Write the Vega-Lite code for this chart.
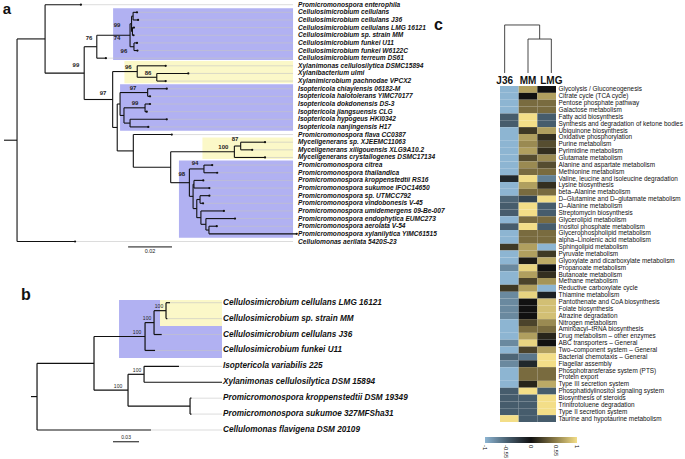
{
"$schema": "https://vega.github.io/schema/vega-lite/v6.json",
"width": 685, "height": 459, "padding": 0, "autosize": {"type": "none"},
"background": "white",
"config": {"view": {"stroke": null}, "font": "Liberation Sans", "axis": {"grid": false}},
"datasets": {
"aBranch": [
{"x":0,"x2":0.006,"y":18.74,"y2":18.74},
{"x":0.006,"x2":0.006,"y":5.48,"y2":32},{"x":0.006,"x2":0.0189,"y":5.48,"y2":5.48},{"x":0.006,"x2":0.0327,"y":32,"y2":32},
{"x":0.0189,"x2":0.0189,"y":1,"y2":9.96},{"x":0.0189,"x2":0.0354,"y":1,"y2":1},{"x":0.0189,"x2":0.0369,"y":9.96,"y2":9.96},
{"x":0.0369,"x2":0.0369,"y":6.5,"y2":13.41},{"x":0.0369,"x2":0.0427,"y":6.5,"y2":6.5},{"x":0.0369,"x2":0.05,"y":13.41,"y2":13.41},
{"x":0.0427,"x2":0.0427,"y":5,"y2":8},{"x":0.0427,"x2":0.058,"y":5,"y2":5},{"x":0.0427,"x2":0.0469,"y":8,"y2":8},
{"x":0.058,"x2":0.058,"y":3.5,"y2":6.5},{"x":0.058,"x2":0.0587,"y":3.5,"y2":3.5},{"x":0.058,"x2":0.0598,"y":6.5,"y2":6.5},
{"x":0.0587,"x2":0.0587,"y":2.5,"y2":4.5},{"x":0.0587,"x2":0.0594,"y":2.5,"y2":2.5},{"x":0.0587,"x2":0.0591,"y":4.5,"y2":4.5},
{"x":0.0594,"x2":0.0594,"y":2,"y2":3},{"x":0.0594,"x2":0.0612,"y":2,"y2":2},{"x":0.0594,"x2":0.0617,"y":3,"y2":3},
{"x":0.0591,"x2":0.0591,"y":4,"y2":5},{"x":0.0591,"x2":0.0598,"y":4,"y2":4},{"x":0.0591,"x2":0.0596,"y":5,"y2":5},
{"x":0.0598,"x2":0.0598,"y":6,"y2":7},{"x":0.0598,"x2":0.0612,"y":6,"y2":6},{"x":0.0598,"x2":0.0614,"y":7,"y2":7},
{"x":0.05,"x2":0.05,"y":9.75,"y2":17.07},{"x":0.05,"x2":0.0613,"y":9.75,"y2":9.75},{"x":0.05,"x2":0.0521,"y":17.07,"y2":17.07},
{"x":0.0613,"x2":0.0613,"y":9,"y2":10.5},{"x":0.0613,"x2":0.0744,"y":9,"y2":9},{"x":0.0613,"x2":0.0703,"y":10.5,"y2":10.5},
{"x":0.0703,"x2":0.0703,"y":10,"y2":11},{"x":0.0703,"x2":0.0848,"y":10,"y2":10},{"x":0.0703,"x2":0.0744,"y":11,"y2":11},
{"x":0.0521,"x2":0.0521,"y":14,"y2":20.14},{"x":0.0521,"x2":0.0534,"y":14,"y2":14},{"x":0.0521,"x2":0.0595,"y":20.14,"y2":20.14},
{"x":0.0534,"x2":0.0534,"y":12.5,"y2":15.5},{"x":0.0534,"x2":0.0661,"y":12.5,"y2":12.5},{"x":0.0534,"x2":0.0552,"y":15.5,"y2":15.5},
{"x":0.0661,"x2":0.0661,"y":12,"y2":13},{"x":0.0661,"x2":0.0749,"y":12,"y2":12},{"x":0.0661,"x2":0.0672,"y":13,"y2":13},
{"x":0.0552,"x2":0.0552,"y":14.5,"y2":16.5},{"x":0.0552,"x2":0.0649,"y":14.5,"y2":14.5},{"x":0.0552,"x2":0.058,"y":16.5,"y2":16.5},
{"x":0.0649,"x2":0.0649,"y":14,"y2":15},{"x":0.0649,"x2":0.0672,"y":14,"y2":14},{"x":0.0649,"x2":0.0657,"y":15,"y2":15},
{"x":0.058,"x2":0.058,"y":16,"y2":17},{"x":0.058,"x2":0.0749,"y":16,"y2":16},{"x":0.058,"x2":0.0664,"y":17,"y2":17},
{"x":0.0595,"x2":0.0595,"y":18,"y2":22.27},{"x":0.0595,"x2":0.0772,"y":18,"y2":18},{"x":0.0595,"x2":0.0767,"y":22.27,"y2":22.27},
{"x":0.0767,"x2":0.0767,"y":20.25,"y2":24.3},{"x":0.0767,"x2":0.106,"y":20.25,"y2":20.25},{"x":0.0767,"x2":0.0853,"y":24.3,"y2":24.3},
{"x":0.106,"x2":0.106,"y":19.5,"y2":21},{"x":0.106,"x2":0.1089,"y":19.5,"y2":19.5},{"x":0.106,"x2":0.1201,"y":21,"y2":21},
{"x":0.1089,"x2":0.1089,"y":19,"y2":20},{"x":0.1089,"x2":0.1201,"y":19,"y2":19},{"x":0.1089,"x2":0.1142,"y":20,"y2":20},
{"x":0.0853,"x2":0.0853,"y":22.5,"y2":26.09},{"x":0.0853,"x2":0.092,"y":22.5,"y2":22.5},{"x":0.0853,"x2":0.087,"y":26.09,"y2":26.09},
{"x":0.092,"x2":0.092,"y":22,"y2":23},{"x":0.092,"x2":0.0958,"y":22,"y2":22},{"x":0.092,"x2":0.0981,"y":23,"y2":23},
{"x":0.087,"x2":0.087,"y":24.5,"y2":27.69},{"x":0.087,"x2":0.0874,"y":24.5,"y2":24.5},{"x":0.087,"x2":0.0887,"y":27.69,"y2":27.69},
{"x":0.0874,"x2":0.0874,"y":24,"y2":25},{"x":0.0874,"x2":0.0917,"y":24,"y2":24},{"x":0.0874,"x2":0.0945,"y":25,"y2":25},
{"x":0.0887,"x2":0.0887,"y":26.5,"y2":28.875},{"x":0.0887,"x2":0.0902,"y":26.5,"y2":26.5},{"x":0.0887,"x2":0.0906,"y":28.875,"y2":28.875},
{"x":0.0902,"x2":0.0902,"y":26,"y2":27},{"x":0.0902,"x2":0.0945,"y":26,"y2":26},{"x":0.0902,"x2":0.0916,"y":27,"y2":27},
{"x":0.0906,"x2":0.0906,"y":28,"y2":29.75},{"x":0.0906,"x2":0.1012,"y":28,"y2":28},{"x":0.0906,"x2":0.0929,"y":29.75,"y2":29.75},
{"x":0.0929,"x2":0.0929,"y":29,"y2":30.5},{"x":0.0929,"x2":0.1063,"y":29,"y2":29},{"x":0.0929,"x2":0.0943,"y":30.5,"y2":30.5},
{"x":0.0943,"x2":0.0943,"y":30,"y2":31},{"x":0.0943,"x2":0.0979,"y":30,"y2":30},{"x":0.0943,"x2":0.1347,"y":31,"y2":31}
],
"aTip": [
{"name":"Promicromonospora enterophila","y":1,"x":0.0354},
{"name":"Cellulosimicrobium cellulans","y":2,"x":0.0612},
{"name":"Cellulosimicrobium cellulans J36","y":3,"x":0.0617},
{"name":"Cellulosimicrobium cellulans LMG 16121","y":4,"x":0.0598},
{"name":"Cellulosimicrobium sp. strain MM","y":5,"x":0.0596},
{"name":"Cellulosimicrobium funkei U11","y":6,"x":0.0612},
{"name":"Cellulosimicrobium funkei W6122C","y":7,"x":0.0614},
{"name":"Cellulosimicrobium terreum DS61","y":8,"x":0.0469},
{"name":"Xylanimonas cellulosilytica DSMC15894","y":9,"x":0.0744},
{"name":"Xylanibacterium ulmi","y":10,"x":0.0848},
{"name":"Xylanimicrobium pachnodae VPCX2","y":11,"x":0.0744},
{"name":"Isoptericola chiayiensis 06182-M","y":12,"x":0.0749},
{"name":"Isoptericola halotolerans YIMC70177","y":13,"x":0.0672},
{"name":"Isoptericola dokdonensis DS-3","y":14,"x":0.0672},
{"name":"Isoptericola jiangsuensis CLG","y":15,"x":0.0657},
{"name":"Isoptericola hypogeus HKI0342","y":16,"x":0.0749},
{"name":"Isoptericola nanjingensis H17","y":17,"x":0.0664},
{"name":"Promicromonospora flava CC0387","y":18,"x":0.0772},
{"name":"Myceligenerans sp. XJEEMC11063","y":19,"x":0.1201},
{"name":"Myceligenerans xiligouensis XLG9A10.2","y":20,"x":0.1142},
{"name":"Myceligenerans crystallogenes DSMC17134","y":21,"x":0.1201},
{"name":"Promicromonospora citrea","y":22,"x":0.0958},
{"name":"Promicromonospora thailandica","y":23,"x":0.0981},
{"name":"Promicromonospora kroppenstedtii RS16","y":24,"x":0.0917},
{"name":"Promicromonospora sukumoe IFOC14650","y":25,"x":0.0945},
{"name":"Promicromonospora sp. UTMCC792","y":26,"x":0.0945},
{"name":"Promicromonospora vindobonesis V-45","y":27,"x":0.0916},
{"name":"Promicromonospora umidemergens 09-Be-007","y":28,"x":0.1012},
{"name":"Promicromonospora endophytica EUMC273","y":29,"x":0.1063},
{"name":"Promicromonospora aerolata V-54","y":30,"x":0.0979},
{"name":"Promicromonospora xylanilytica YIMC61515","y":31,"x":0.1347},
{"name":"Cellulomonas aerilata 5420S-23","y":32,"x":0.0327}
],
"aBlue": [{"x":0.0502,"x2":0.133,"y":1.47,"y2":8.24},{"x":0.0534,"x2":0.133,"y":11.42,"y2":17.5},{"x":0.0805,"x2":0.133,"y":21.4,"y2":31.5}],
"aYellow": [{"x":0.0554,"x2":0.133,"y":8.37,"y2":11.29},{"x":0.0913,"x2":0.133,"y":18.4,"y2":21.2}],
"aBoot": [
{"x":0.0331,"y":8.9,"label":"99"},{"x":0.0391,"y":5.4,"label":"76"},{"x":0.052,"y":3.66,"label":"99"},
{"x":0.052,"y":5.32,"label":"74"},{"x":0.0552,"y":7.02,"label":"96"},{"x":0.0572,"y":9.12,"label":"96"},
{"x":0.0663,"y":9.98,"label":"86"},{"x":0.0456,"y":12.56,"label":"97"},{"x":0.0594,"y":11.94,"label":"97"},
{"x":0.0603,"y":13.9,"label":"99"},{"x":0.1063,"y":18.58,"label":"87"},{"x":0.1009,"y":19.59,"label":"100"},
{"x":0.0879,"y":21.76,"label":"94"},{"x":0.0818,"y":23.16,"label":"98"}
],
"bBranch": [
{"x":0,"x2":0.0067,"y":6.9,"y2":6.9},
{"x":0.0067,"x2":0.0067,"y":4.81,"y2":9},{"x":0.0067,"x2":0.07,"y":4.81,"y2":4.81},{"x":0.0067,"x2":0.1333,"y":9,"y2":9},
{"x":0.07,"x2":0.07,"y":3.125,"y2":6.5},{"x":0.07,"x2":0.1267,"y":3.125,"y2":3.125},{"x":0.07,"x2":0.1078,"y":6.5,"y2":6.5},
{"x":0.1267,"x2":0.1267,"y":2.25,"y2":4},{"x":0.1267,"x2":0.1367,"y":2.25,"y2":2.25},{"x":0.1267,"x2":0.1378,"y":4,"y2":4},
{"x":0.1367,"x2":0.1367,"y":1.5,"y2":3},{"x":0.1367,"x2":0.15,"y":1.5,"y2":1.5},{"x":0.1367,"x2":0.1452,"y":3,"y2":3},
{"x":0.15,"x2":0.15,"y":1,"y2":2},{"x":0.15,"x2":0.1544,"y":1,"y2":1},{"x":0.15,"x2":0.1515,"y":2,"y2":2},
{"x":0.1078,"x2":0.1078,"y":5.5,"y2":7.5},{"x":0.1078,"x2":0.1256,"y":5.5,"y2":5.5},{"x":0.1078,"x2":0.1767,"y":7.5,"y2":7.5},
{"x":0.1256,"x2":0.1256,"y":5,"y2":6},{"x":0.1256,"x2":0.1644,"y":5,"y2":5},{"x":0.1256,"x2":0.2122,"y":6,"y2":6},
{"x":0.1767,"x2":0.1767,"y":7,"y2":8},{"x":0.1767,"x2":0.1783,"y":7,"y2":7},{"x":0.1767,"x2":0.1783,"y":8,"y2":8}
],
"bTip": [
{"name":"Cellulosimicrobium cellulans LMG 16121","y":1,"x":0.1544},
{"name":"Cellulosimicrobium sp. strain MM","y":2,"x":0.1515},
{"name":"Cellulosimicrobium cellulans J36","y":3,"x":0.1452},
{"name":"Cellulosimicrobium funkei U11","y":4,"x":0.1378},
{"name":"Isoptericola variabilis 225","y":5,"x":0.1644},
{"name":"Xylanimonas cellulosilytica DSM 15894","y":6,"x":0.2122},
{"name":"Promicromonospora kroppenstedtii DSM 19349","y":7,"x":0.1783},
{"name":"Promicromonospora sukumoe 327MFSha31","y":8,"x":0.1783},
{"name":"Cellulomonas flavigena DSM 20109","y":9,"x":0.1333}
],
"bBlue": [{"x":0.0978,"x2":0.2122,"y":0.83,"y2":4.48}],
"bYellow": [{"x":0.1433,"x2":0.2122,"y":0.83,"y2":2.47}],
"bBoot": [
{"x":0.1422,"y":1.19,"label":"100"},{"x":0.1289,"y":1.96,"label":"100"},{"x":0.1178,"y":2.82,"label":"100"},
{"x":0.1178,"y":5.21,"label":"100"},{"x":0.0967,"y":6.26,"label":"100"}
],
"cDendro": [
{"x":0.25,"x2":0.25,"y":-1.9,"y2":-8.9},
{"x":1.5,"x2":1.5,"y":-1.9,"y2":-6.85},
{"x":2.75,"x2":2.75,"y":-1.9,"y2":-6.85},
{"x":1.5,"x2":2.75,"y":-6.85,"y2":-6.85},
{"x":2.125,"x2":2.125,"y":-6.85,"y2":-8.9},
{"x":0.25,"x2":2.125,"y":-8.9,"y2":-8.9}
],
"cLeaf": [{"sample":"J36","x":0.25},{"sample":"MM","x":1.5},{"sample":"LMG","x":2.75}],
"heat": [
{"pathway":"Glycolysis / Gluconeogenesis","sample":"J36","value":-1},{"pathway":"Glycolysis / Gluconeogenesis","sample":"MM","value":0.7},{"pathway":"Glycolysis / Gluconeogenesis","sample":"LMG","value":0},
{"pathway":"Citrate cycle (TCA cycle)","sample":"J36","value":-1},{"pathway":"Citrate cycle (TCA cycle)","sample":"MM","value":0},{"pathway":"Citrate cycle (TCA cycle)","sample":"LMG","value":0.7},
{"pathway":"Pentose phosphate pathway","sample":"J36","value":-1},{"pathway":"Pentose phosphate pathway","sample":"MM","value":0.45},{"pathway":"Pentose phosphate pathway","sample":"LMG","value":0.45},
{"pathway":"Galactose metabolism","sample":"J36","value":-1},{"pathway":"Galactose metabolism","sample":"MM","value":0.45},{"pathway":"Galactose metabolism","sample":"LMG","value":0.45},
{"pathway":"Fatty acid biosynthesis","sample":"J36","value":-0.5},{"pathway":"Fatty acid biosynthesis","sample":"MM","value":1},{"pathway":"Fatty acid biosynthesis","sample":"LMG","value":-0.5},
{"pathway":"Synthesis and degradation of ketone bodies","sample":"J36","value":-0.5},{"pathway":"Synthesis and degradation of ketone bodies","sample":"MM","value":1},{"pathway":"Synthesis and degradation of ketone bodies","sample":"LMG","value":-0.5},
{"pathway":"Ubiquinone biosynthesis","sample":"J36","value":-1},{"pathway":"Ubiquinone biosynthesis","sample":"MM","value":0.2},{"pathway":"Ubiquinone biosynthesis","sample":"LMG","value":0.7},
{"pathway":"Oxidative phosphorylation","sample":"J36","value":-1},{"pathway":"Oxidative phosphorylation","sample":"MM","value":0.7},{"pathway":"Oxidative phosphorylation","sample":"LMG","value":0.15},
{"pathway":"Purine metabolism","sample":"J36","value":-1},{"pathway":"Purine metabolism","sample":"MM","value":0.6},{"pathway":"Purine metabolism","sample":"LMG","value":0.3},
{"pathway":"Pyrimidine metabolism","sample":"J36","value":-1},{"pathway":"Pyrimidine metabolism","sample":"MM","value":0.7},{"pathway":"Pyrimidine metabolism","sample":"LMG","value":0.15},
{"pathway":"Glutamate metabolism","sample":"J36","value":-1},{"pathway":"Glutamate metabolism","sample":"MM","value":0.3},{"pathway":"Glutamate metabolism","sample":"LMG","value":0.6},
{"pathway":"Alanine and aspartate metabolism","sample":"J36","value":-1},{"pathway":"Alanine and aspartate metabolism","sample":"MM","value":0.6},{"pathway":"Alanine and aspartate metabolism","sample":"LMG","value":0.3},
{"pathway":"Methionine metabolism","sample":"J36","value":-1},{"pathway":"Methionine metabolism","sample":"MM","value":0.45},{"pathway":"Methionine metabolism","sample":"LMG","value":0.45},
{"pathway":"Valine, leucine and isoleucine degradation","sample":"J36","value":-0.15},{"pathway":"Valine, leucine and isoleucine degradation","sample":"MM","value":1},{"pathway":"Valine, leucine and isoleucine degradation","sample":"LMG","value":-0.7},
{"pathway":"Lysine biosynthesis","sample":"J36","value":-1},{"pathway":"Lysine biosynthesis","sample":"MM","value":0.7},{"pathway":"Lysine biosynthesis","sample":"LMG","value":0.15},
{"pathway":"beta–Alanine metabolism","sample":"J36","value":-1},{"pathway":"beta–Alanine metabolism","sample":"MM","value":0.45},{"pathway":"beta–Alanine metabolism","sample":"LMG","value":0.45},
{"pathway":"D–Glutamine and D–glutamate metabolism","sample":"J36","value":-0.55},{"pathway":"D–Glutamine and D–glutamate metabolism","sample":"MM","value":-0.35},{"pathway":"D–Glutamine and D–glutamate metabolism","sample":"LMG","value":1},
{"pathway":"D–Alanine metabolism","sample":"J36","value":-0.5},{"pathway":"D–Alanine metabolism","sample":"MM","value":1},{"pathway":"D–Alanine metabolism","sample":"LMG","value":-0.5},
{"pathway":"Streptomycin biosynthesis","sample":"J36","value":-0.5},{"pathway":"Streptomycin biosynthesis","sample":"MM","value":1},{"pathway":"Streptomycin biosynthesis","sample":"LMG","value":-0.5},
{"pathway":"Glycerolipid metabolism","sample":"J36","value":-1},{"pathway":"Glycerolipid metabolism","sample":"MM","value":0.45},{"pathway":"Glycerolipid metabolism","sample":"LMG","value":0.45},
{"pathway":"Inositol phosphate metabolism","sample":"J36","value":-0.5},{"pathway":"Inositol phosphate metabolism","sample":"MM","value":1},{"pathway":"Inositol phosphate metabolism","sample":"LMG","value":-0.5},
{"pathway":"Glycerophospholipid metabolism","sample":"J36","value":-1},{"pathway":"Glycerophospholipid metabolism","sample":"MM","value":0.45},{"pathway":"Glycerophospholipid metabolism","sample":"LMG","value":0.45},
{"pathway":"alpha–Linolenic acid metabolism","sample":"J36","value":-1},{"pathway":"alpha–Linolenic acid metabolism","sample":"MM","value":0.45},{"pathway":"alpha–Linolenic acid metabolism","sample":"LMG","value":0.45},
{"pathway":"Sphingolipid metabolism","sample":"J36","value":0.2},{"pathway":"Sphingolipid metabolism","sample":"MM","value":0.7},{"pathway":"Sphingolipid metabolism","sample":"LMG","value":-1},
{"pathway":"Pyruvate metabolism","sample":"J36","value":-1},{"pathway":"Pyruvate metabolism","sample":"MM","value":0.7},{"pathway":"Pyruvate metabolism","sample":"LMG","value":0.2},
{"pathway":"Glyoxylate and dicarboxylate metabolism","sample":"J36","value":-1},{"pathway":"Glyoxylate and dicarboxylate metabolism","sample":"MM","value":0.05},{"pathway":"Glyoxylate and dicarboxylate metabolism","sample":"LMG","value":0.75},
{"pathway":"Propanoate metabolism","sample":"J36","value":-0.75},{"pathway":"Propanoate metabolism","sample":"MM","value":0.95},{"pathway":"Propanoate metabolism","sample":"LMG","value":0},
{"pathway":"Butanoate metabolism","sample":"J36","value":-1},{"pathway":"Butanoate metabolism","sample":"MM","value":0.7},{"pathway":"Butanoate metabolism","sample":"LMG","value":0.15},
{"pathway":"Methane metabolism","sample":"J36","value":-1},{"pathway":"Methane metabolism","sample":"MM","value":0.25},{"pathway":"Methane metabolism","sample":"LMG","value":0.65},
{"pathway":"Reductive carboxylate cycle","sample":"J36","value":0.2},{"pathway":"Reductive carboxylate cycle","sample":"MM","value":0.7},{"pathway":"Reductive carboxylate cycle","sample":"LMG","value":-1},
{"pathway":"Thiamine metabolism","sample":"J36","value":-0.75},{"pathway":"Thiamine metabolism","sample":"MM","value":0.95},{"pathway":"Thiamine metabolism","sample":"LMG","value":-0.1},
{"pathway":"Pantothenate and CoA biosynthesis","sample":"J36","value":-0.75},{"pathway":"Pantothenate and CoA biosynthesis","sample":"MM","value":0},{"pathway":"Pantothenate and CoA biosynthesis","sample":"LMG","value":0.85},
{"pathway":"Folate biosynthesis","sample":"J36","value":-0.75},{"pathway":"Folate biosynthesis","sample":"MM","value":0},{"pathway":"Folate biosynthesis","sample":"LMG","value":0.85},
{"pathway":"Atrazine degradation","sample":"J36","value":-0.75},{"pathway":"Atrazine degradation","sample":"MM","value":0},{"pathway":"Atrazine degradation","sample":"LMG","value":0.85},
{"pathway":"Nitrogen metabolism","sample":"J36","value":-1},{"pathway":"Nitrogen metabolism","sample":"MM","value":0.25},{"pathway":"Nitrogen metabolism","sample":"LMG","value":0.6},
{"pathway":"Aminoacyl–tRNA biosynthesis","sample":"J36","value":-1},{"pathway":"Aminoacyl–tRNA biosynthesis","sample":"MM","value":0.45},{"pathway":"Aminoacyl–tRNA biosynthesis","sample":"LMG","value":0.45},
{"pathway":"Drug metabolism – other enzymes","sample":"J36","value":-1},{"pathway":"Drug metabolism – other enzymes","sample":"MM","value":0.7},{"pathway":"Drug metabolism – other enzymes","sample":"LMG","value":0.1},
{"pathway":"ABC transporters – General","sample":"J36","value":-0.75},{"pathway":"ABC transporters – General","sample":"MM","value":0.95},{"pathway":"ABC transporters – General","sample":"LMG","value":0},
{"pathway":"Two–component system – General","sample":"J36","value":-1},{"pathway":"Two–component system – General","sample":"MM","value":0.25},{"pathway":"Two–component system – General","sample":"LMG","value":0.7},
{"pathway":"Bacterial chemotaxis – General","sample":"J36","value":-0.55},{"pathway":"Bacterial chemotaxis – General","sample":"MM","value":-0.65},{"pathway":"Bacterial chemotaxis – General","sample":"LMG","value":1},
{"pathway":"Flagellar assembly","sample":"J36","value":-0.75},{"pathway":"Flagellar assembly","sample":"MM","value":-0.15},{"pathway":"Flagellar assembly","sample":"LMG","value":1},
{"pathway":"Phosphotransferase system (PTS)","sample":"J36","value":-1},{"pathway":"Phosphotransferase system (PTS)","sample":"MM","value":0.45},{"pathway":"Phosphotransferase system (PTS)","sample":"LMG","value":0.45},
{"pathway":"Protein export","sample":"J36","value":-1},{"pathway":"Protein export","sample":"MM","value":0.45},{"pathway":"Protein export","sample":"LMG","value":0.45},
{"pathway":"Type III secretion system","sample":"J36","value":-1},{"pathway":"Type III secretion system","sample":"MM","value":0.1},{"pathway":"Type III secretion system","sample":"LMG","value":0.75},
{"pathway":"Phosphatidylinositol signaling system","sample":"J36","value":-0.5},{"pathway":"Phosphatidylinositol signaling system","sample":"MM","value":1},{"pathway":"Phosphatidylinositol signaling system","sample":"LMG","value":-0.5},
{"pathway":"Biosynthesis of steroids","sample":"J36","value":-0.5},{"pathway":"Biosynthesis of steroids","sample":"MM","value":-0.5},{"pathway":"Biosynthesis of steroids","sample":"LMG","value":1},
{"pathway":"Trinitrotoluene degradation","sample":"J36","value":-0.5},{"pathway":"Trinitrotoluene degradation","sample":"MM","value":-0.5},{"pathway":"Trinitrotoluene degradation","sample":"LMG","value":1},
{"pathway":"Type II secretion system","sample":"J36","value":-0.5},{"pathway":"Type II secretion system","sample":"MM","value":-0.5},{"pathway":"Type II secretion system","sample":"LMG","value":1},
{"pathway":"Taurine and hypotaurine metabolism","sample":"J36","value":1},{"pathway":"Taurine and hypotaurine metabolism","sample":"MM","value":-0.5},{"pathway":"Taurine and hypotaurine metabolism","sample":"LMG","value":-0.5}
]
},
"layer": [
{"layer": [
 {"data":{"name":"aBlue"},"mark":{"type":"rect","color":"#b1b1f2"},
  "encoding":{"x":{"field":"x","type":"quantitative","scale":{"domain":[0,0.15],"range":[4,330],"zero":false,"nice":false},
    "axis":{"orient":"bottom","offset":-204,"values":[0,0.025,0.05,0.075,0.1,0.125,0.15],"labelExpr":"datum.value == 0 ? '0.0' : toString(datum.value)","title":null,"grid":false,"tickSize":3,"tickColor":"#000","domainColor":"#000","labelFontSize":6.5,"labelFontWeight":"bold","labelColor":"#222","labelPadding":3,"labelFlush":false,"labelOverlap":false}},
   "x2":{"field":"x2"},
   "y":{"field":"y","type":"quantitative","scale":{"domain":[1,32],"range":[4.7,241.5],"zero":false,"nice":false},"axis":null},"y2":{"field":"y2"}}},
 {"data":{"name":"aYellow"},"mark":{"type":"rect","color":"#fbf8c8"},
  "encoding":{"x":{"field":"x","type":"quantitative","scale":{"domain":[0,0.15],"range":[4,330],"zero":false,"nice":false},"axis":null},"x2":{"field":"x2"},
   "y":{"field":"y","type":"quantitative","scale":{"domain":[1,32],"range":[4.7,241.5],"zero":false,"nice":false},"axis":null},"y2":{"field":"y2"}}},
 {"data":{"name":"aTip"},"mark":{"type":"rule","color":"#c4c4c4","strokeWidth":0.6},
  "encoding":{"x":{"field":"x","type":"quantitative","scale":{"domain":[0,0.15],"range":[4,330],"zero":false,"nice":false},"axis":null},"x2":{"datum":0.133},
   "y":{"field":"y","type":"quantitative","scale":{"domain":[1,32],"range":[4.7,241.5],"zero":false,"nice":false},"axis":null}}},
 {"data":{"name":"aBranch"},"mark":{"type":"rule","color":"#111","strokeWidth":1.1},
  "encoding":{"x":{"field":"x","type":"quantitative","scale":{"domain":[0,0.15],"range":[4,330],"zero":false,"nice":false},"axis":null},"x2":{"field":"x2"},
   "y":{"field":"y","type":"quantitative","scale":{"domain":[1,32],"range":[4.7,241.5],"zero":false,"nice":false},"axis":null},"y2":{"field":"y2"}}},
 {"data":{"name":"aTip"},"mark":{"type":"point","filled":true,"color":"#111","size":5,"opacity":1},
  "encoding":{"x":{"field":"x","type":"quantitative","scale":{"domain":[0,0.15],"range":[4,330],"zero":false,"nice":false},"axis":null},
   "y":{"field":"y","type":"quantitative","scale":{"domain":[1,32],"range":[4.7,241.5],"zero":false,"nice":false},"axis":null}}},
 {"data":{"name":"aTip"},"mark":{"type":"text","align":"left","baseline":"middle","fontStyle":"italic","fontWeight":"bold","fontSize":6.6,"color":"#111"},
  "encoding":{"x":{"datum":0.1353,"type":"quantitative","scale":{"domain":[0,0.15],"range":[4,330],"zero":false,"nice":false},"axis":null},
   "y":{"field":"y","type":"quantitative","scale":{"domain":[1,32],"range":[4.7,241.5],"zero":false,"nice":false},"axis":null},"text":{"field":"name"}}},
 {"data":{"name":"aBoot"},"mark":{"type":"text","align":"center","baseline":"middle","fontWeight":"bold","fontSize":6,"color":"#222"},
  "encoding":{"x":{"field":"x","type":"quantitative","scale":{"domain":[0,0.15],"range":[4,330],"zero":false,"nice":false},"axis":null},
   "y":{"field":"y","type":"quantitative","scale":{"domain":[1,32],"range":[4.7,241.5],"zero":false,"nice":false},"axis":null},"text":{"field":"label"}}},
 {"data":{"values":[{}]},"mark":{"type":"rule","color":"#111","strokeWidth":1},
  "encoding":{"x":{"datum":0.0571,"type":"quantitative","scale":{"domain":[0,0.15],"range":[4,330],"zero":false,"nice":false},"axis":null},"x2":{"datum":0.0773},
   "y":{"datum":32.71,"type":"quantitative","scale":{"domain":[1,32],"range":[4.7,241.5],"zero":false,"nice":false},"axis":null}}},
 {"data":{"values":[{}]},"mark":{"type":"text","align":"center","baseline":"middle","fontSize":5.5,"color":"#222"},
  "encoding":{"x":{"datum":0.0672,"type":"quantitative","scale":{"domain":[0,0.15],"range":[4,330],"zero":false,"nice":false},"axis":null},
   "y":{"datum":33.3,"type":"quantitative","scale":{"domain":[1,32],"range":[4.7,241.5],"zero":false,"nice":false},"axis":null},"text":{"value":"0.02"}}},
 {"data":{"values":[{}]},"mark":{"type":"text","align":"center","baseline":"alphabetic","fontSize":15,"fontWeight":"bold","color":"#111"},
  "encoding":{"x":{"datum":0.0014,"type":"quantitative","scale":{"domain":[0,0.15],"range":[4,330],"zero":false,"nice":false},"axis":null},
   "y":{"datum":2.22,"type":"quantitative","scale":{"domain":[1,32],"range":[4.7,241.5],"zero":false,"nice":false},"axis":null},"text":{"value":"a"}}}
]},
{"layer": [
 {"data":{"name":"bBlue"},"mark":{"type":"rect","color":"#b1b1f2"},
  "encoding":{"x":{"field":"x","type":"quantitative","scale":{"domain":[0,0.2233],"range":[31,232],"zero":false,"nice":false},
    "axis":{"orient":"bottom","offset":-10,"values":[0,0.05,0.1,0.15,0.2],"labelExpr":"datum.value == 0 ? '0.0' : toString(datum.value)","title":null,"grid":false,"tickSize":3,"tickColor":"#000","domainColor":"#000","labelFontSize":5,"labelColor":"#222","labelPadding":2,"labelFlush":false,"labelOverlap":false}},
   "x2":{"field":"x2"},
   "y":{"field":"y","type":"quantitative","scale":{"domain":[1,9],"range":[302.7,430],"zero":false,"nice":false},"axis":null},"y2":{"field":"y2"}}},
 {"data":{"name":"bYellow"},"mark":{"type":"rect","color":"#fbf8c8"},
  "encoding":{"x":{"field":"x","type":"quantitative","scale":{"domain":[0,0.2233],"range":[31,232],"zero":false,"nice":false},"axis":null},"x2":{"field":"x2"},
   "y":{"field":"y","type":"quantitative","scale":{"domain":[1,9],"range":[302.7,430],"zero":false,"nice":false},"axis":null},"y2":{"field":"y2"}}},
 {"data":{"name":"bTip"},"mark":{"type":"rule","color":"#c4c4c4","strokeWidth":0.6},
  "encoding":{"x":{"field":"x","type":"quantitative","scale":{"domain":[0,0.2233],"range":[31,232],"zero":false,"nice":false},"axis":null},"x2":{"datum":0.2122},
   "y":{"field":"y","type":"quantitative","scale":{"domain":[1,9],"range":[302.7,430],"zero":false,"nice":false},"axis":null}}},
 {"data":{"name":"bBranch"},"mark":{"type":"rule","color":"#111","strokeWidth":1.2},
  "encoding":{"x":{"field":"x","type":"quantitative","scale":{"domain":[0,0.2233],"range":[31,232],"zero":false,"nice":false},"axis":null},"x2":{"field":"x2"},
   "y":{"field":"y","type":"quantitative","scale":{"domain":[1,9],"range":[302.7,430],"zero":false,"nice":false},"axis":null},"y2":{"field":"y2"}}},
 {"data":{"name":"bTip"},"mark":{"type":"text","align":"left","baseline":"middle","fontStyle":"italic","fontWeight":"bold","fontSize":8.2,"color":"#111"},
  "encoding":{"x":{"datum":0.2133,"type":"quantitative","scale":{"domain":[0,0.2233],"range":[31,232],"zero":false,"nice":false},"axis":null},
   "y":{"field":"y","type":"quantitative","scale":{"domain":[1,9],"range":[302.7,430],"zero":false,"nice":false},"axis":null},"text":{"field":"name"}}},
 {"data":{"name":"bBoot"},"mark":{"type":"text","align":"center","baseline":"middle","fontSize":5,"color":"#222"},
  "encoding":{"x":{"field":"x","type":"quantitative","scale":{"domain":[0,0.2233],"range":[31,232],"zero":false,"nice":false},"axis":null},
   "y":{"field":"y","type":"quantitative","scale":{"domain":[1,9],"range":[302.7,430],"zero":false,"nice":false},"axis":null},"text":{"field":"label"}}},
 {"data":{"values":[{}]},"mark":{"type":"rule","color":"#111","strokeWidth":1},
  "encoding":{"x":{"datum":0.0911,"type":"quantitative","scale":{"domain":[0,0.2233],"range":[31,232],"zero":false,"nice":false},"axis":null},"x2":{"datum":0.12},
   "y":{"datum":9.74,"type":"quantitative","scale":{"domain":[1,9],"range":[302.7,430],"zero":false,"nice":false},"axis":null}}},
 {"data":{"values":[{}]},"mark":{"type":"text","align":"center","baseline":"middle","fontSize":5,"color":"#222"},
  "encoding":{"x":{"datum":0.1056,"type":"quantitative","scale":{"domain":[0,0.2233],"range":[31,232],"zero":false,"nice":false},"axis":null},
   "y":{"datum":9.45,"type":"quantitative","scale":{"domain":[1,9],"range":[302.7,430],"zero":false,"nice":false},"axis":null},"text":{"value":"0.03"}}},
 {"data":{"values":[{}]},"mark":{"type":"text","align":"center","baseline":"alphabetic","fontSize":16,"fontWeight":"bold","color":"#111"},
  "encoding":{"x":{"datum":-0.0056,"type":"quantitative","scale":{"domain":[0,0.2233],"range":[31,232],"zero":false,"nice":false},"axis":null},
   "y":{"datum":0.83,"type":"quantitative","scale":{"domain":[1,9],"range":[302.7,430],"zero":false,"nice":false},"axis":null},"text":{"value":"b"}}}
]},
{"data":{"name":"heat"},"mark":{"type":"rect"},
 "encoding":{
  "x":{"field":"sample","type":"nominal","sort":["J36","MM","LMG"],"scale":{"range":[500,556],"paddingInner":0,"paddingOuter":0},"axis":null},
  "y":{"field":"pathway","type":"nominal","sort":null,"scale":{"range":[86,422],"paddingInner":0,"paddingOuter":0},
   "axis":{"orient":"right","offset":-129,"title":null,"ticks":false,"domain":false,"labelFontSize":6.4,"labelPadding":2,"labelLimit":0,"labelColor":"#111"}},
  "color":{"field":"value","type":"quantitative","scale":{"domain":[-1,-0.5,0,0.5,1],"range":["#8db5d2","#465c6c","#111111","#847544","#f3de88"],"interpolate":"rgb"},
   "legend":{"orient":"none","legendX":485,"legendY":437,"direction":"horizontal","gradientLength":92,"gradientThickness":6,"title":null,"values":[-1,-0.55,0,0.55,1],"labelExpr":"toString(datum.value)","labelFontSize":5.8,"labelColor":"#111","labelOffset":2,"padding":0,
    "encoding":{"labels":{"angle":{"value":90},"align":{"value":"left"},"baseline":{"value":"middle"}}}}}
 }},
{"layer": [
 {"data":{"name":"cDendro"},"mark":{"type":"rule","color":"#333","strokeWidth":0.9},
  "encoding":{"x":{"field":"x","type":"quantitative","scale":{"domain":[0,3],"range":[500,556],"zero":false,"nice":false},"axis":null},"x2":{"field":"x2"},
   "y":{"field":"y","type":"quantitative","scale":{"domain":[0,49],"range":[86,422],"zero":false,"nice":false},"axis":null},"y2":{"field":"y2"}}},
 {"data":{"name":"cLeaf"},"mark":{"type":"text","align":"center","baseline":"alphabetic","fontSize":10,"fontWeight":"bold","color":"#111"},
  "encoding":{"x":{"field":"x","type":"quantitative","scale":{"domain":[0,3],"range":[500,556],"zero":false,"nice":false},"axis":null},
   "y":{"datum":-0.3,"type":"quantitative","scale":{"domain":[0,49],"range":[86,422],"zero":false,"nice":false},"axis":null},"text":{"field":"sample"}}},
 {"data":{"values":[{}]},"mark":{"type":"text","align":"center","baseline":"alphabetic","fontSize":16,"fontWeight":"bold","color":"#111"},
  "encoding":{"x":{"datum":-3.3,"type":"quantitative","scale":{"domain":[0,3],"range":[500,556],"zero":false,"nice":false},"axis":null},
   "y":{"datum":-8.17,"type":"quantitative","scale":{"domain":[0,49],"range":[86,422],"zero":false,"nice":false},"axis":null},"text":{"value":"c"}}}
]}
],
"resolve": {"scale": {"x": "independent", "y": "independent", "color": "independent"}}
}
